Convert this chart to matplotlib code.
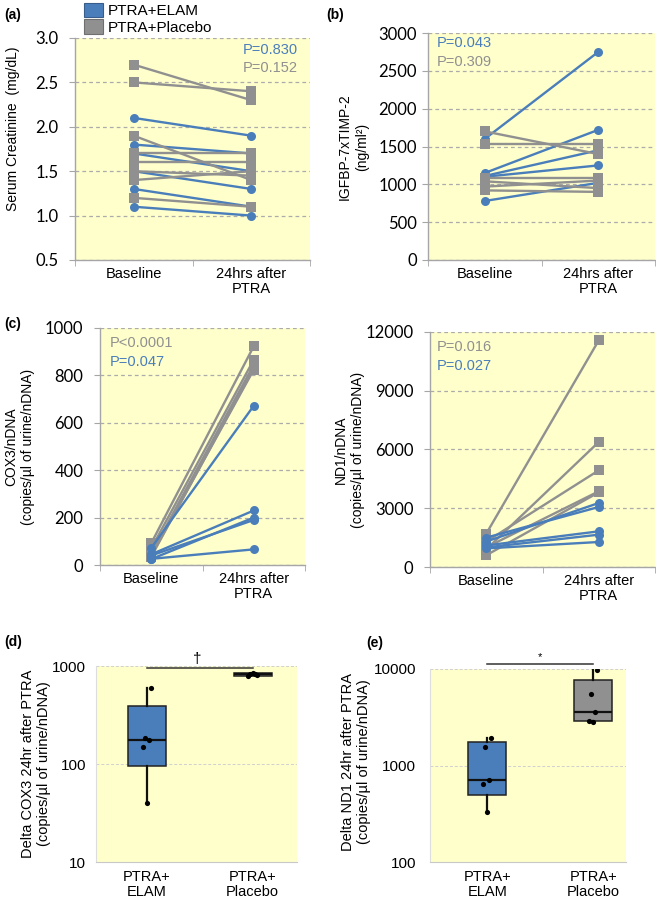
import matplotlib
matplotlib.use("Agg")
import matplotlib.pyplot as plt
from matplotlib.patches import Patch
import numpy as np

# ---------------------------------------------------------------------
# data
# ---------------------------------------------------------------------
time_labels = ["Baseline", "24hrs after\nPTRA"]
group_labels = ["PTRA+\nELAM", "PTRA+\nPlacebo"]

# (a) serum creatinine, mg/dL
scr_elam_base = [2.1, 1.8, 1.7, 1.5, 1.3, 1.1]
scr_elam_post = [1.9, 1.7, 1.5, 1.3, 1.1, 1.0]
scr_plac_base = [2.7, 2.5, 1.9, 1.7, 1.6, 1.5, 1.4, 1.2]
scr_plac_post = [2.3, 2.4, 1.4, 1.7, 1.6, 1.45, 1.5, 1.1]

# (b) IGFBP-7 x TIMP-2
igf_elam_base = [1600, 1150, 1110, 1100, 780]
igf_elam_post = [2750, 1720, 1450, 1250, 1020]
igf_plac_base = [1700, 1530, 1090, 1040, 970, 920]
igf_plac_post = [1400, 1530, 1090, 950, 1050, 900]

# (c) COX3 / nDNA
cox_plac_base = [92, 70, 49, 35, 40]
cox_plac_post = [923, 866, 845, 831, 824]
cox_elam_base = [72, 45, 25, 40, 26]
cox_elam_post = [672, 230, 200, 190, 66]

# (c) ND1 / nDNA
nd1_plac_base = [1700, 900, 1300, 1000, 600]
nd1_plac_post = [11574, 6383, 4936, 3864, 3813]
nd1_elam_base = [1300, 1500, 1100, 1000, 950]
nd1_elam_post = [3268, 3064, 1821, 1651, 1277]

# (d) delta COX3, (e) delta ND1
dcox_elam = [600, 185, 175, 150, 40]
dcox_plac = [800, 820, 830, 790, 850]
dnd1_elam = [1950, 1550, 700, 650, 330]
dnd1_plac = [9800, 5500, 3600, 2900, 2850]

# ---------------------------------------------------------------------
# style
# ---------------------------------------------------------------------
BLUE = "#4A7EBB"
GRAY = "#909090"
YELLOW = "#FFFFCC"
SPINE = "#A6A6A6"
SANS = ["Liberation Sans", "DejaVu Sans"]
NUMF = ["Lato", "DejaVu Sans"]
jitter = [0.04, -0.02, 0.02, -0.04, 0.0]

plt.rcParams["font.family"] = SANS

W, H = 656, 900
fig = plt.figure(figsize=(W / 100, H / 100), dpi=100)


def px_rect(l, t, r, b):
    return [l / W, 1 - b / H, (r - l) / W, (b - t) / H]


def ftext(x, y, s, **kw):
    fig.text(x / W, 1 - y / H, s, **kw)


def paired(ax, base, post, color, marker, ms, z):
    for b, a in zip(base, post):
        ax.plot([0, 1], [b, a], color=color, lw=1.7, marker=marker,
                ms=ms, mew=0, zorder=z)


def style_paired(ax, ylim, yticks, fmt, ypad):
    ax.set_facecolor(YELLOW)
    ax.set_xlim(-0.5, 1.5)
    ax.set_ylim(*ylim)
    ax.set_yticks(yticks)
    ax.set_yticklabels([fmt.format(v) for v in yticks], family=NUMF, fontsize=12)
    ax.set_xticks([0, 1])
    ax.set_xticklabels(time_labels, fontsize=10.5, linespacing=1.1)
    ax.set_xticks([-0.5, 0.5, 1.5], minor=True)
    ax.tick_params(axis="x", which="major", length=0, pad=5)
    ax.tick_params(axis="x", which="minor", length=4, color=SPINE)
    ax.tick_params(axis="y", length=4, color=SPINE, pad=ypad)
    for s in ("top", "right"):
        ax.spines[s].set_visible(False)
    for s in ("left", "bottom"):
        ax.spines[s].set_color(SPINE)
        ax.spines[s].set_linewidth(1.0)
    ax.set_axisbelow(True)
    ax.yaxis.grid(True, ls=(0, (3, 2.5)), color="#ABABAB", lw=0.9)


# (a) -----------------------------------------------------------------
ax_a = fig.add_axes(px_rect(75, 38, 310, 260))
paired(ax_a, scr_elam_base, scr_elam_post, BLUE, "o", 6.5, 2)
paired(ax_a, scr_plac_base, scr_plac_post, GRAY, "s", 7, 3)
style_paired(ax_a, (0.5, 3.0), np.arange(0.5, 3.01, 0.5), "{:.1f}", 8)
ax_a.set_ylabel("Serum Creatinine  (mg/dL)", fontsize=10)
ax_a.yaxis.set_label_coords(-0.235, 0.59)
ftext(298, 50, "P=0.830", color=BLUE, fontsize=10.5, ha="right", va="center")
ftext(298, 68, "P=0.152", color=GRAY, fontsize=10.5, ha="right", va="center")

# (b) -----------------------------------------------------------------
ax_b = fig.add_axes(px_rect(428, 33, 655, 260))
paired(ax_b, igf_elam_base, igf_elam_post, BLUE, "o", 6.5, 2)
paired(ax_b, igf_plac_base, igf_plac_post, GRAY, "s", 7, 3)
style_paired(ax_b, (0, 3000), np.arange(0, 3001, 500), "{:.0f}", 4)
ax_b.set_ylabel("IGFBP-7xTIMP-2\n(ng/ml²)", fontsize=10, linespacing=1.25)
ax_b.yaxis.set_label_coords(-0.26, 0.5)
ftext(437, 43, "P=0.043", color=BLUE, fontsize=10.5, va="center")
ftext(437, 62, "P=0.309", color=GRAY, fontsize=10.5, va="center")

# (c) COX3 ------------------------------------------------------------
ax_c1 = fig.add_axes(px_rect(100, 328, 305, 565))
paired(ax_c1, cox_plac_base, cox_plac_post, GRAY, "s", 7, 2)
paired(ax_c1, cox_elam_base, cox_elam_post, BLUE, "o", 6.5, 3)
style_paired(ax_c1, (0, 1000), np.arange(0, 1001, 200), "{:.0f}", 8)
ax_c1.set_ylabel("COX3/nDNA\n(copies/µl of urine/nDNA)", fontsize=10, linespacing=1.25)
ax_c1.yaxis.set_label_coords(-0.315, 0.5)
ftext(110, 343, "P<0.0001", color=GRAY, fontsize=10.5, va="center")
ftext(110, 362, "P=0.047", color=BLUE, fontsize=10.5, va="center")

# (c) ND1 -------------------------------------------------------------
ax_c2 = fig.add_axes(px_rect(430, 332, 655, 567))
paired(ax_c2, nd1_plac_base, nd1_plac_post, GRAY, "s", 7, 2)
paired(ax_c2, nd1_elam_base, nd1_elam_post, BLUE, "o", 6.5, 3)
style_paired(ax_c2, (0, 12000), np.arange(0, 12001, 3000), "{:.0f}", 8)
ax_c2.set_ylabel("ND1/nDNA\n(copies/µl of urine/nDNA)", fontsize=10, linespacing=1.25)
ax_c2.yaxis.set_label_coords(-0.29, 0.5)
ftext(437, 347, "P=0.016", color=GRAY, fontsize=10.5, va="center")
ftext(437, 366, "P=0.027", color=BLUE, fontsize=10.5, va="center")


# (d), (e) box plots --------------------------------------------------
def box_stats(vals):
    v = np.asarray(vals, float)
    q1, med, q3 = np.percentile(v, [25, 50, 75], method="weibull")
    return dict(med=med, q1=q1, q3=q3, whislo=v.min(), whishi=v.max(), fliers=[])


def box_panel(ax, elam, plac, ylim, yticks, ypad):
    ax.set_facecolor(YELLOW)
    ax.set_yscale("log")
    stats = [box_stats(elam), box_stats(plac)]
    bp = ax.bxp(stats, positions=[0, 1], widths=0.36, patch_artist=True,
                showcaps=False, manage_ticks=False,
                boxprops=dict(edgecolor="#222222", lw=1.1),
                whiskerprops=dict(color="#111111", lw=1.6),
                medianprops=dict(color="#111111", lw=1.6))
    for patch, c in zip(bp["boxes"], [BLUE, GRAY]):
        patch.set_facecolor(c)
    for i, vals in enumerate([elam, plac]):
        ax.scatter(i + np.array(jitter[:len(vals)]), vals, s=14, color="black",
                   zorder=5, linewidths=0)
    ax.set_ylim(*ylim)
    ax.set_yticks(yticks)
    ax.set_yticklabels([str(v) for v in yticks], fontsize=11)
    ax.yaxis.set_minor_locator(matplotlib.ticker.NullLocator())
    ax.set_xticks([0, 1])
    ax.set_xticklabels(group_labels, fontsize=10.5, linespacing=1.1)
    ax.tick_params(axis="x", length=0, pad=6)
    ax.tick_params(axis="y", length=0, pad=ypad)
    for s in ("top", "right"):
        ax.spines[s].set_visible(False)
    ax.spines["left"].set_color("#DDDDDD")
    ax.spines["bottom"].set_color("#C8C8C8")
    ax.set_axisbelow(True)
    ax.yaxis.grid(True, ls=(0, (3, 2)), color="#D0D0D0", lw=0.7)


ax_d = fig.add_axes(px_rect(96, 666, 297, 862))
box_panel(ax_d, dcox_elam, dcox_plac, (10, 1000), [10, 100, 1000], 7)
ax_d.set_xlim(-0.48, 1.42)
ax_d.set_ylabel("Delta COX3 24hr after PTRA\n(copies/µl of urine/nDNA)",
                fontsize=10.5, linespacing=1.2)
ax_d.yaxis.set_label_coords(-0.225, 0.5)
ax_d.plot([0, 1], [965, 965], color="#333333", lw=1.1, clip_on=False)
ax_d.text(0.48, 1010, "†", ha="center", va="bottom", fontsize=11)

ax_e = fig.add_axes(px_rect(430, 669, 626, 862))
box_panel(ax_e, dnd1_elam, dnd1_plac, (100, 10000), [100, 1000, 10000], 10)
ax_e.set_xlim(-0.54, 1.31)
ax_e.set_ylabel("Delta ND1 24hr after PTRA\n(copies/µl of urine/nDNA)",
                fontsize=10.5, linespacing=1.2)
ax_e.yaxis.set_label_coords(-0.30, 0.52)
ax_e.plot([0, 1], [11300, 11300], color="#333333", lw=1.1, clip_on=False)
ax_e.text(0.5, 11700, "*", ha="center", va="bottom", fontsize=8)

# panel letters -------------------------------------------------------
for x, y, s in [(4, 15, "(a)"), (326, 15, "(b)"), (4, 324, "(c)"),
                (4, 642, "(d)"), (366, 643, "(e)")]:
    ftext(x, y, s, fontsize=10, fontweight="bold", va="center")

# legend --------------------------------------------------------------
handles = [Patch(facecolor=BLUE, edgecolor="#385D8A", lw=0.8),
           Patch(facecolor=GRAY, edgecolor="#6F6F6F", lw=0.8)]
fig.legend(handles, ["PTRA+ELAM", "PTRA+Placebo"], loc="upper left",
           bbox_to_anchor=(84 / W, 0.997), frameon=False, fontsize=11,
           handlelength=1.25, handleheight=1.1, handletextpad=0.3,
           labelspacing=0.08, borderaxespad=0, borderpad=0)

fig.savefig("out.png", dpi=100)
